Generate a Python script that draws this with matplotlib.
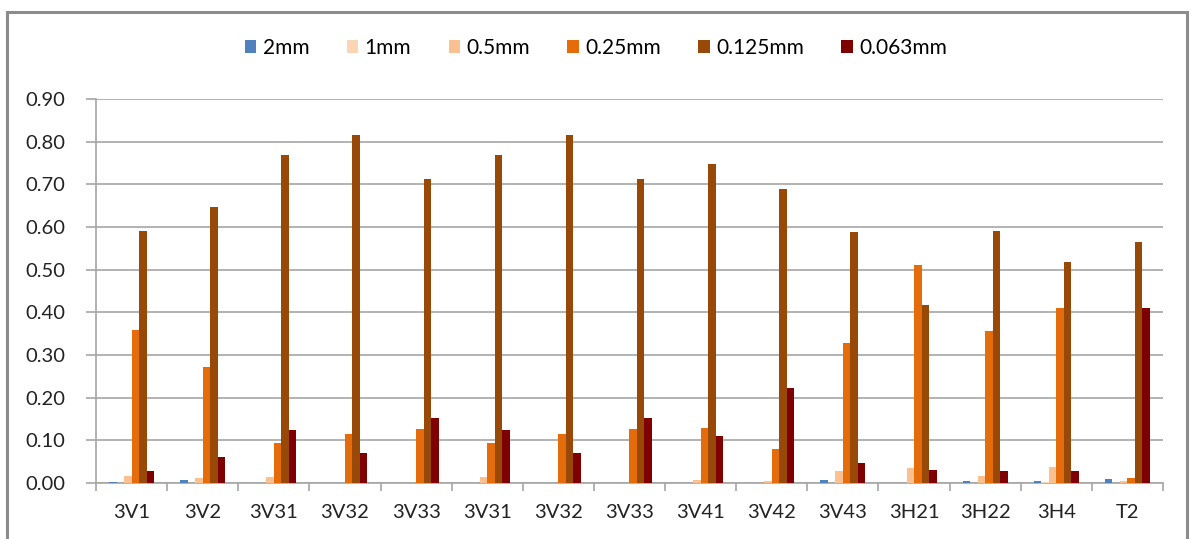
import numpy as np
import matplotlib.pyplot as plt
from matplotlib.patches import Rectangle

# Campioni e serie
samples = ['3V1', '3V2', '3V31', '3V32', '3V33', '3V31', '3V32', '3V33',
           '3V41', '3V42', '3V43', '3H21', '3H22', '3H4', 'T2']
sizes = ['2mm', '1mm', '0.5mm', '0.25mm', '0.125mm', '0.063mm']

v_2mm = [0.003, 0.008, 0, 0, 0, 0, 0, 0, 0, 0, 0.008, 0, 0.005, 0.005, 0.009]
v_1mm = [0, 0, 0, 0, 0, 0, 0, 0, 0, 0, 0, 0, 0, 0.002, 0]
v_05mm = [0.016, 0.011, 0.013, 0, 0, 0.013, 0, 0, 0.008, 0.005, 0.028, 0.036, 0.016, 0.037, 0.004]
v_025mm = [0.358, 0.273, 0.094, 0.116, 0.127, 0.094, 0.116, 0.127, 0.130, 0.080, 0.327, 0.512, 0.357, 0.410, 0.012]
v_0125mm = [0.590, 0.646, 0.768, 0.815, 0.712, 0.768, 0.815, 0.712, 0.748, 0.690, 0.588, 0.418, 0.590, 0.518, 0.566]
v_0063mm = [0.028, 0.060, 0.124, 0.070, 0.152, 0.124, 0.070, 0.152, 0.111, 0.223, 0.047, 0.030, 0.028, 0.028, 0.410]

series = [v_2mm, v_1mm, v_05mm, v_025mm, v_0125mm, v_0063mm]
colors = ['#4F81BD', '#FCD5B5', '#FAC090', '#E46C0A', '#984807', '#7F0000']

plt.rcParams['font.family'] = ['Lato', 'DejaVu Sans']

fig = plt.figure(figsize=(11.92, 5.39), dpi=100)
ax = fig.add_axes([0.0805, 0.1039, 0.8952, 0.7124])

# bordo esterno del grafico
fig.patches.append(Rectangle((7 / 1192, -0.05), 1180 / 1192, 1 - 12 / 539 + 0.05,
                             transform=fig.transFigure, fill=False,
                             edgecolor='#8C8C8C', linewidth=2.2))

x = np.arange(len(samples))
w = 1 / 9.5
for i, (vals, c) in enumerate(zip(series, colors)):
    ax.bar(x - 2.5 * w + i * w, vals, width=w, color=c, label=sizes[i], zorder=3)

ax.set_xlim(-0.5, len(samples) - 0.5)
ax.set_ylim(0, 0.9)
ax.set_yticks(np.arange(0, 0.91, 0.1))
ax.set_yticklabels(['%.2f' % v for v in np.arange(0, 0.91, 0.1)])
ax.grid(axis='y', color='#A6A6A6', linewidth=1.2, zorder=0)

ax.set_xticks(x)
ax.set_xticklabels(samples)
ax.set_xticks(np.arange(-0.5, len(samples)), minor=True)
ax.tick_params(axis='x', which='major', length=0, pad=15, labelsize=14.5, colors='#222222')
ax.tick_params(axis='x', which='minor', length=6, color='#A6A6A6', width=1.2)
ax.tick_params(axis='y', length=7, pad=15, labelsize=14.5, colors='#222222')
ax.tick_params(axis='y', color='#A6A6A6', width=1.2)

for s in ['top', 'right']:
    ax.spines[s].set_visible(False)
for s in ['left', 'bottom']:
    ax.spines[s].set_color('#A6A6A6')
    ax.spines[s].set_linewidth(1.2)

fig.legend(loc='center', bbox_to_anchor=(0.5, 1 - 48 / 539), ncol=6, frameon=False,
           fontsize=15, handlelength=0.55, handleheight=0.55, handletextpad=0.3,
           columnspacing=1.8)

fig.savefig('out.png', dpi=100)
